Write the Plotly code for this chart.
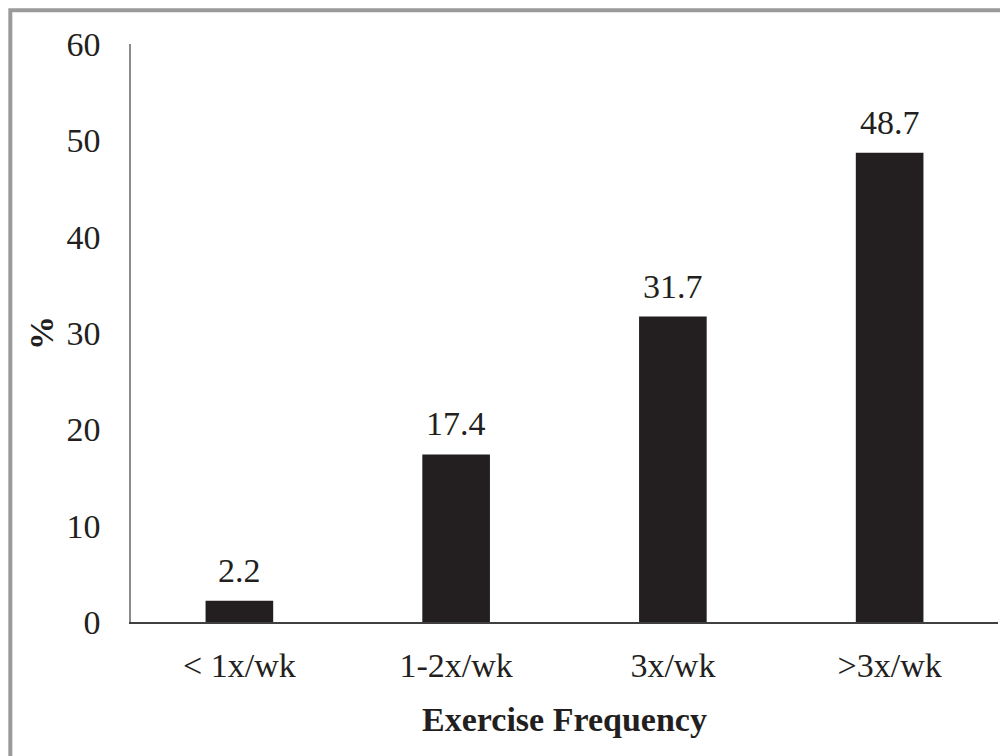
import plotly.graph_objects as go

categories = ["< 1x/wk", "1-2x/wk", "3x/wk", ">3x/wk"]
values = [2.2, 17.4, 31.7, 48.7]
value_labels = ["2.2", "17.4", "31.7", "48.7"]
y_ticks = [0, 10, 20, 30, 40, 50, 60]

ink = "#231f20"
font_family = "Liberation Serif, Times New Roman, serif"
fs = 34

fig = go.Figure()
fig.add_trace(go.Bar(
    x=categories,
    y=values,
    marker=dict(color=ink, line=dict(width=0)),
    hoverinfo="x+y",
))

for c, v, t in zip(categories, values, value_labels):
    fig.add_annotation(
        x=c, y=v, text=t, showarrow=False,
        yanchor="bottom", yshift=10,
        font=dict(family=font_family, size=fs, color=ink),
    )

fig.update_layout(
    width=1008,
    height=756,
    margin=dict(l=123, r=18, t=36, b=142),
    paper_bgcolor="white",
    plot_bgcolor="white",
    bargap=0.688,
    showlegend=False,
    font=dict(family=font_family, size=fs, color=ink),
    xaxis=dict(
        showline=True,
        linecolor="#404040",
        linewidth=1.5,
        ticks="",
        showgrid=False,
        tickfont=dict(family=font_family, size=fs, color=ink),
        ticklabelstandoff=12,
        title=dict(text="<b>Exercise Frequency</b>",
                   font=dict(family=font_family, size=fs, color=ink),
                   standoff=25),
    ),
    yaxis=dict(
        range=[0, 60],
        tickvals=y_ticks,
        showline=True,
        linecolor="#8c8c8c",
        linewidth=1.5,
        ticks="",
        showgrid=False,
        zeroline=False,
        tickfont=dict(family=font_family, size=fs, color=ink),
        ticklabelstandoff=22,
        title=dict(text="<b>%</b>",
                   font=dict(family=font_family, size=fs, color=ink),
                   standoff=3),
    ),
    shapes=[dict(
        type="rect", xref="paper", yref="paper",
        x0=-0.1392, x1=1.2, y0=-0.5, y1=1.0583,
        line=dict(color="#9a9a9a", width=4),
        fillcolor="rgba(0,0,0,0)",
        layer="below",
    )],
)

fig.write_html("out.html")
